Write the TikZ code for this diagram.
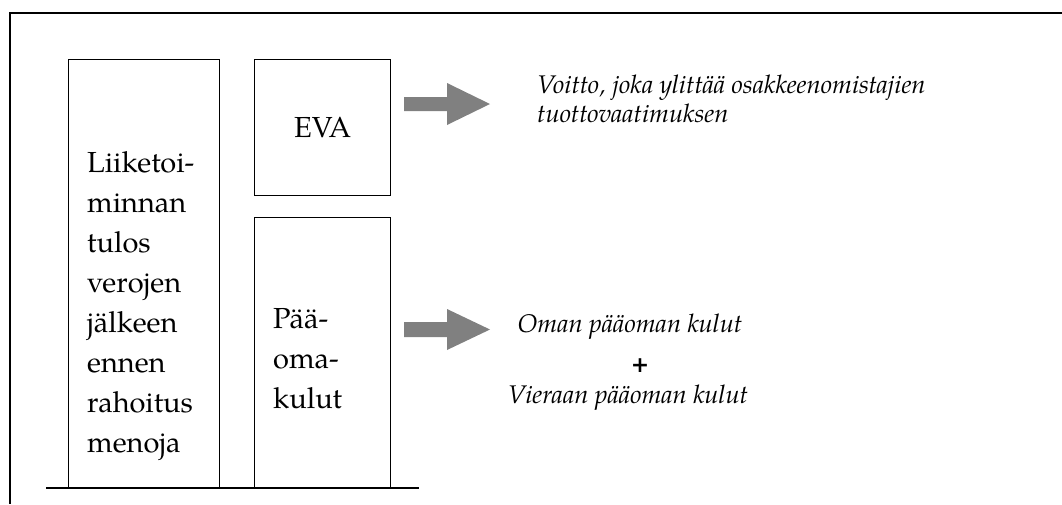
\documentclass[tikz,border=0pt]{standalone}
\usepackage{fontspec}
\setmainfont{TeX Gyre Pagella}
\newfontfamily\plusfont{DejaVu Sans}
\begin{document}
\begin{tikzpicture}[x=1pt,y=-1pt,
  boxshape/.style={draw=black,line width=1.3pt,inner sep=0pt,anchor=north west},
  boxtext/.style={inner sep=0pt,anchor=base west,align=left,text width=160pt,
    font=\fontsize{29}{40}\selectfont},
  noteline/.style={inner sep=0pt,anchor=base west,font=\fontsize{25.5}{29}\selectfont\itshape},
  framel/.style={line width=1.8pt},
  grayarrow/.style={fill=black!50}]
\useasboundingbox (0,0) rectangle (1062,504);
% frame
\draw[framel] (1062,13) -- (10,13) -- (10,504);
% boxes
\node[boxshape,minimum width=151pt,minimum height=429pt] (lb) at (68,59) {};
\node[boxshape,minimum width=136pt,minimum height=136pt] (eva) at (254,59) {};
\node[boxshape,minimum width=136pt,minimum height=271pt] (pk) at (254,217) {};
\coordinate (bl) at (46,488);
\coordinate (br) at (419,488);
\draw[framel] (bl) -- (br);
% texts in boxes
\node[boxtext] (lbt) at (87,172) {Liiketoi-\\minnan\\tulos\\verojen\\jälkeen\\ennen\\rahoitus\\menoja};
\node[inner sep=0pt,font=\fontsize{29}{40}\selectfont] (evat) at (eva.center) {EVA};
\node[boxtext] (pkt) at (273,328) {Pää-\\oma-\\kulut};
% arrows
\coordinate (a1) at (404,104.5);
\coordinate (a2) at (404,329.5);
\fill[grayarrow] (a1) ++(0,-7.5) -- ++(43,0) -- ++(0,-14) -- ++(43,21) -- ++(-43,21) -- ++(0,-14) -- ++(-43,0) -- cycle;
\fill[grayarrow] (a2) ++(0,-7.5) -- ++(43,0) -- ++(0,-13) -- ++(43,20.5) -- ++(-43,20.5) -- ++(0,-13) -- ++(-43,0) -- cycle;
% notes
\node[noteline] (n1) at (537,93) {Voitto, joka ylittää osakkeenomistajien};
\node[noteline] (n2) at (537,122) {tuottovaatimuksen};
\node[noteline,anchor=base] (n3) at (630,332) {Oman pääoman kulut};
\node[inner sep=0pt,font=\fontsize{22}{26}\selectfont\plusfont\bfseries] (plus) at (640,366) {+};
\node[noteline,anchor=base] (n4) at (628,403) {Vieraan pääoman kulut};
\end{tikzpicture}
\end{document}
